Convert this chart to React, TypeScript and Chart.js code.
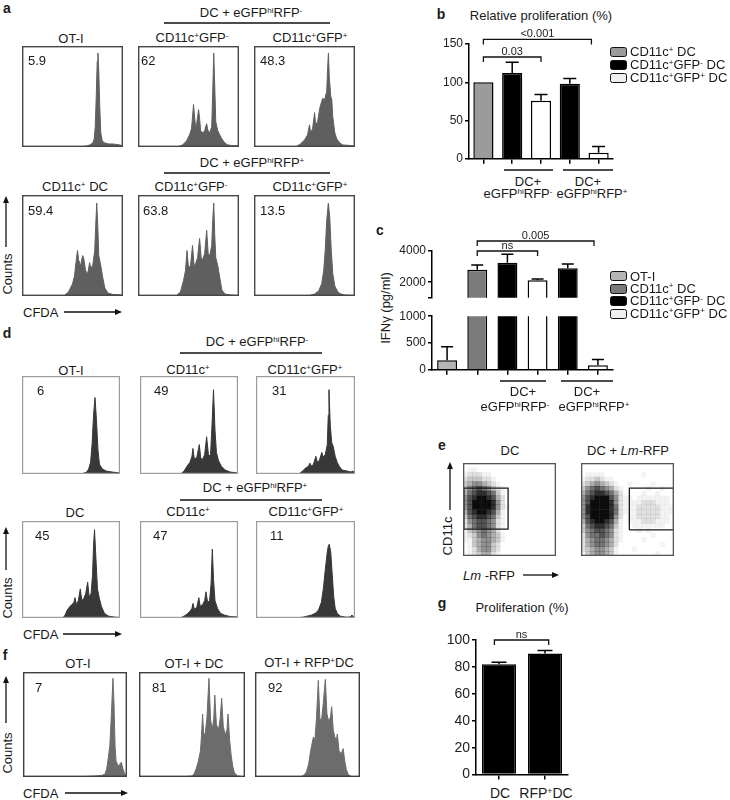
import React, { useEffect, useRef } from 'react';
import { Chart, registerables } from 'chart.js';

Chart.register(...registerables);

const FONT = '"Liberation Sans", Arial, Helvetica, sans-serif';

// ---------- panel a : CFDA histograms (x = % of CFDA axis, y = % of max counts)
const histA1 = [[0,0],[60,0.5],[64,1],[67,2],[70,4],[71.5,8],[72.5,20],[73.5,50],[74.5,85],[75.2,93],[76,75],[77,40],[78,14],[79.5,6],[82,4],[86,3],[90,3],[94,2.5],[97,2],[100,1]];
const histA2 = [[0,0],[40,0.5],[44,2],[48,6],[51,12],[53,18],[54,30],[55,42],[56,30],[57,20],[58,22],[59,30],[60,37],[61,28],[62,16],[64,14],[66,16],[67,20],[68,23],[69,17],[71,14],[73,20],[74,55],[75,93],[76,60],[77,25],[79,16],[81,12],[83,8],[86,4],[89,2],[93,1.5],[100,1]];
const histA3 = [[0,0],[42,0.5],[46,3],[50,7],[53,12],[55,22],[56,14],[58,18],[60,34],[61,22],[63,25],[65,38],[67,45],[68,48],[70,47],[72,55],[73,80],[73.7,93],[74.5,70],[76,50],[77,47],[78,30],[80,14],[82,8],[85,4],[88,2],[95,1.5],[100,1]];
const histA4 = [[0,0],[42,0.5],[46,4],[50,12],[52,20],[54,38],[55,45],[56,36],[58,30],[60,40],[61,38],[63,25],[65,22],[67,33],[68,28],[70,30],[72,45],[73,70],[74,92],[75,70],[76,40],[78,30],[80,18],[82,8],[85,3],[90,1.5],[100,1]];
const histA5 = [[0,0],[38,0.5],[42,4],[45,15],[47,25],[48.5,45],[50,28],[52,30],[54,50],[55.5,30],[57,32],[59,38],[61,57],[62.5,38],[64,36],[66,42],[68,65],[69.5,42],[71,40],[73,50],[74,75],[75,92],[76,60],[77,38],[79,30],[81,18],[83,6],[86,2],[92,1],[100,0.5]];
const histA6 = [[0,0],[55,0.5],[60,2],[64,5],[67,12],[69,25],[70.5,45],[72,75],[73.6,92],[75,78],[76.5,45],[78,22],[80,10],[83,4],[86,2],[90,1],[100,0.5]];

// ---------- panel d
const histD1 = [[0,0],[62,0.5],[66,2],[68,5],[70,12],[71.5,30],[73,60],[74.5,78],[76,55],[77.5,25],[79,10],[82,5],[86,3],[92,2],[100,1]];
const histD2 = [[0,0],[42,0.5],[45,3],[48,8],[51,12],[53,18],[54,26],[55.5,15],[58,17],[60.5,30],[62,16],[64,15],[66,20],[68,38],[70,18],[72,20],[73.5,50],[75,86],[76.5,45],[78,22],[80,14],[83,8],[87,4],[92,2],[100,1]];
const histD3 = [[0,0],[44,0.5],[47,3],[50,6],[53,8],[54.5,11],[56,8],[58,10],[60.5,18],[62,12],[64,14],[66.5,22],[68,17],[70,20],[72,30],[73,60],[73.7,86],[75,50],[76.5,32],[78,28],[80,18],[82,12],[84,8],[87,4],[92,3],[96,2],[98,3],[100,1]];
const histD4 = [[0,0],[42,0.5],[44,3],[46,8],[49,12],[51,14],[53,16],[54,21],[55.5,14],[57.5,18],[59.5,30],[61,18],[63,20],[65,25],[67,37],[68.5,22],[70.5,25],[72,45],[73,75],[74,91],[75.5,60],[77,30],[79,20],[81,12],[84,5],[88,2],[94,1],[100,0.5]];
const histD5 = [[0,0],[42,0.5],[45,2],[48,4],[51,7],[53,10],[54,15],[55.5,9],[58,11],[60,21],[61.5,12],[64,14],[66,18],[67.3,27],[69,16],[71,18],[72.5,35],[73.8,71],[75,40],[76.5,18],[79,10],[82,5],[86,3],[92,1.5],[100,1]];
const histD6 = [[0,0],[44,0.5],[48,1],[52,2],[56,3],[60,5],[63,8],[66,16],[68,30],[70,50],[72,68],[73,74],[74,76],[75.5,68],[77,45],[78.5,22],[80,10],[82,5],[85,2],[90,1],[95,1],[97,3],[98.5,1],[100,0.5]];

// ---------- panel f
const histF1 = [[0,0],[60,0.5],[70,1],[76,1.5],[79,3],[80.5,8],[82,18],[83.5,30],[85,60],[86.5,94],[87.5,70],[88.5,30],[89.5,15],[91,12],[92.5,10],[93.5,13],[94.5,14],[96,8],[97.5,4],[99,1],[100,0]];
const histF2 = [[0,0],[45,0.5],[50,1],[52,3],[54,8],[56,15],[58,25],[59,40],[60,60],[61,40],[62.5,42],[64,55],[66,94],[67.5,55],[69,45],[70.5,55],[71.5,78],[73,50],[75,45],[76.5,55],[78,75],[79.5,48],[81.5,40],[83,45],[84,60],[85.5,35],[87,20],[88.5,10],[90,4],[93,1],[100,0]];
const histF3 = [[0,0],[44,0.5],[47,2],[49,5],[51,12],[53,25],[55.6,38],[57,35],[58.5,55],[60.3,92],[61.8,55],[63.5,55],[65,70],[67,93],[68.5,60],[70.5,52],[72,58],[73,67],[74.5,45],[76,38],[77.5,35],[78.4,41],[80,25],[82,22],[84,27],[85.5,15],[87,7],[89,2],[92,0.5],[100,0]];

// ---------- panel b : relative proliferation (%)
const bLabels = ['', '', '', '', ''];
const bValues = [100, 112, 76, 98, 8];
const bErrors = [0, 14, 8, 7, 8];
const bColors = ['#9b9b9b', '#000000', '#ffffff', '#000000', '#ffffff'];
const bTicks = [0, 50, 100, 150];
const bSig = [
  { from: 0, to: 2, y: 133, label: '0.03' },
  { from: 0, to: 3.75, y: 156, label: '<0.001' },
];

// ---------- panel c : IFNγ (pg/ml), broken axis
const cLabels = ['', '', '', '', '', ''];
const cValues = [180, 2800, 3250, 2120, 2890, 84];
const cErrors = [250, 300, 540, 90, 270, 106];
const cColors = ['#b5b5b5', '#7a7a7a', '#000000', '#ffffff', '#000000', '#ffffff'];
const cLowerTicks = [0, 500, 1000];
const cUpperTicks = [1000, 2000, 4000];
const cUpperLabels = ['', '2000', '4000'];
const cSig = [
  { from: 1, to: 3, y: 4000, label: 'ns' },
  { from: 1, to: 4.87, y: 4640, label: '0.005' },
];

// ---------- panel e : CD11c vs Lm-RFP density (20 x 20 cells, row 0 = top, level 0-9)
const eGridDC = [
  '00000000000000000000',
  '01100000000000000000',
  '12221100000000000000',
  '23332210000000000000',
  '34554321000000000000',
  '35676532100000000000',
  '46788763100000000000',
  '57899874200000000000',
  '57999985200000000000',
  '57999985210000000000',
  '47899874100000000000',
  '36788763100000000000',
  '25677652100000000000',
  '24677652100000000000',
  '13456542000000000000',
  '12356543100000000000',
  '11345543100000000000',
  '01345532000000000000',
  '01245532000000000000',
  '01234421000000000000',
];
const eGridLm = [
  '00000000000000000000',
  '00000000000000000000',
  '01111000000001000000',
  '12232110000000000000',
  '23454321001000010000',
  '35676542100000100100',
  '46788764200001001000',
  '57899975211011111110',
  '57999985211112221110',
  '58999986211122222111',
  '58999986211122222111',
  '57999985201122222110',
  '47899874101112221110',
  '36788763100111111100',
  '35677652100010100000',
  '25667652100000010000',
  '24566542100001000000',
  '24566542000000000100',
  '23455431000100000000',
  '13455431000000001000',
];
const eGateDC = [1, 48.5, 29, 73];
const eGateLm = [52, 99.5, 28, 73];

// ---------- panel g : proliferation (%)
const gLabels = ['', ''];
const gValues = [82, 90];
const gErrors = [1.5, 2.2];
const gTicks = [0, 20, 40, 60, 80, 100];
const gSig = [{ from: -0.1, to: 1.08, y: 100, label: 'ns' }];

// ================= helpers
const baseOpts = () => ({
  animation: false,
  responsive: false,
  events: [],
  plugins: { legend: { display: false }, tooltip: { enabled: false } },
});

const framePlugin = (color: string, lw: number) => ({
  id: 'frame',
  afterDraw(chart: any) {
    const { ctx, chartArea: a } = chart;
    ctx.save();
    ctx.strokeStyle = color;
    ctx.lineWidth = lw;
    ctx.strokeRect(a.left + lw / 2, a.top + lw / 2, a.right - a.left - lw, a.bottom - a.top - lw);
    ctx.restore();
  },
});

const errorPlugin = (errors: number[], cap: number) => ({
  id: 'err',
  afterDatasetsDraw(chart: any) {
    const { ctx } = chart;
    const ys = chart.scales.y;
    const meta = chart.getDatasetMeta(0);
    const vals = chart.data.datasets[0].data;
    ctx.save();
    ctx.strokeStyle = '#000';
    ctx.lineWidth = 1.5;
    meta.data.forEach((bar: any, i: number) => {
      const v = vals[i];
      const e = errors[i];
      if (!e || v < ys.min || v > ys.max) return;
      const p0 = ys.getPixelForValue(v);
      const p1 = ys.getPixelForValue(v + e);
      ctx.beginPath();
      ctx.moveTo(bar.x, p0);
      ctx.lineTo(bar.x, p1);
      ctx.moveTo(bar.x - cap, p1);
      ctx.lineTo(bar.x + cap, p1);
      ctx.stroke();
    });
    ctx.restore();
  },
});

const sigPlugin = (sig: any[]) => ({
  id: 'sig',
  afterDraw(chart: any) {
    const { ctx } = chart;
    const xs = chart.scales.x;
    const ys = chart.scales.y;
    ctx.save();
    ctx.strokeStyle = '#111';
    ctx.lineWidth = 1.3;
    ctx.fillStyle = '#222';
    ctx.font = `11px ${FONT}`;
    ctx.textAlign = 'center';
    ctx.textBaseline = 'alphabetic';
    sig.forEach((s) => {
      const x1 = xs.getPixelForValue(s.from);
      const x2 = xs.getPixelForValue(s.to);
      const py = ys.getPixelForValue(s.y);
      ctx.beginPath();
      ctx.moveTo(x1, py + 5);
      ctx.lineTo(x1, py);
      ctx.lineTo(x2, py);
      ctx.lineTo(x2, py + 5);
      ctx.stroke();
      ctx.fillText(s.label, (x1 + x2) / 2, py - 2.5);
    });
    ctx.restore();
  },
});

function ChartCanvas({ x, y, w, h, make }: any) {
  const ref = useRef<HTMLCanvasElement>(null);
  useEffect(() => {
    const c = new Chart(ref.current as HTMLCanvasElement, make());
    return () => c.destroy();
  }, []);
  return (
    <canvas
      ref={ref}
      width={w}
      height={h}
      style={{ position: 'absolute', left: x, top: y, width: w, height: h }}
    />
  );
}

function Hist({ x, y, w, h, data, color, frame, frameW }: any) {
  return (
    <ChartCanvas
      x={x}
      y={y}
      w={w}
      h={h}
      make={() => ({
        type: 'line',
        data: {
          datasets: [
            {
              data: data.map((p: number[]) => ({ x: p[0], y: p[1] })),
              fill: 'origin',
              backgroundColor: color,
              borderColor: color,
              borderWidth: 1,
              pointRadius: 0,
              tension: 0,
              clip: 0,
            },
          ],
        },
        options: {
          ...baseOpts(),
          layout: { padding: 0 },
          scales: {
            x: { type: 'linear', min: 0, max: 100, display: false },
            y: { min: 0, max: 100, display: false },
          },
        },
        plugins: [framePlugin(frame, frameW)],
      })}
    />
  );
}

function Dots({ x, y, w, h, grid, gate }: any) {
  return (
    <ChartCanvas
      x={x}
      y={y}
      w={w}
      h={h}
      make={() => {
        const pts: any[] = [];
        const cols: string[] = [];
        grid.forEach((row: string, r: number) =>
          row.split('').forEach((ch, c) => {
            const lv = Number(ch);
            if (lv > 0) {
              pts.push({ x: (c + 0.5) * 5, y: 100 - (r + 0.5) * 5 });
              cols.push(`rgba(12,12,12,${Math.pow(lv / 9, 1.35).toFixed(3)})`);
            }
          })
        );
        const [x1, x2, y1, y2] = gate;
        return {
          type: 'scatter',
          data: {
            datasets: [
              {
                data: pts,
                pointBackgroundColor: cols,
                backgroundColor: cols,
                pointStyle: 'rect',
                pointRadius: 3.6,
                pointBorderWidth: 0,
                borderWidth: 0,
                clip: 0,
              },
              {
                data: [
                  { x: x1, y: y1 },
                  { x: x2, y: y1 },
                  { x: x2, y: y2 },
                  { x: x1, y: y2 },
                  { x: x1, y: y1 },
                ],
                showLine: true,
                borderColor: '#1a1a1a',
                borderWidth: 1.3,
                pointRadius: 0,
                fill: false,
                tension: 0,
              },
            ],
          },
          options: {
            ...baseOpts(),
            layout: { padding: 0 },
            scales: {
              x: { type: 'linear', min: 0, max: 100, display: false },
              y: { min: 0, max: 100, display: false },
            },
          },
          plugins: [framePlugin('#555', 1.3)],
        };
      }}
    />
  );
}

// Bar chart placed so that its chart area is exactly (ax0, ay0)-(ax1, ay1)
function Bars(p: any) {
  const yW = 40;
  const padTop = p.padTop;
  const padRight = 5;
  const xH = p.showX ? 8 : 0;
  const w = yW + (p.ax1 - p.ax0) + padRight;
  const h = padTop + (p.ay1 - p.ay0) + xH;
  return (
    <ChartCanvas
      x={p.ax0 - yW}
      y={p.ay0 - padTop}
      w={w}
      h={h}
      make={() => ({
        type: 'bar',
        data: {
          labels: p.labels,
          datasets: [
            {
              data: p.values,
              backgroundColor: p.colors,
              borderColor: '#000',
              borderWidth: 1.5,
              barPercentage: p.barPct,
              categoryPercentage: 1,
              clip: 0,
            },
          ],
        },
        options: {
          ...baseOpts(),
          layout: { padding: { top: padTop, right: padRight, left: 0, bottom: 0 } },
          scales: {
            x: {
              display: p.showX,
              offset: true,
              grid: { offset: false, drawOnChartArea: false, drawTicks: true, tickLength: 5, color: '#000', lineWidth: 1.5 },
              border: { color: '#000', width: 1.5 },
              ticks: { display: false },
              afterFit: (s: any) => {
                s.height = xH;
              },
            },
            y: {
              min: p.min,
              max: p.max,
              grid: { drawOnChartArea: false, drawTicks: true, tickLength: 4, color: '#000', lineWidth: 1.5 },
              border: { color: '#000', width: 1.5 },
              ticks: {
                font: { family: FONT, size: p.font },
                color: '#222',
                padding: 2,
                callback: (v: number) => {
                  const i = p.ticks.indexOf(v);
                  return p.tickLabels ? p.tickLabels[i] : String(v);
                },
              },
              afterBuildTicks: (s: any) => {
                s.ticks = p.ticks.map((v: number) => ({ value: v }));
              },
              afterFit: (s: any) => {
                s.width = yW;
              },
            },
          },
        },
        plugins: [errorPlugin(p.errors, p.cap), sigPlugin(p.sig)],
      })}
    />
  );
}

function Txt({ x, y, size = 13, bold, italic, rot, align = 'center', color = '#1a1a1a', children }: any) {
  const tx = align === 'center' ? '-50%' : align === 'right' ? '-100%' : '0';
  return (
    <div
      style={{
        position: 'absolute',
        left: x,
        top: y,
        transform: `translate(${tx}, -50%)${rot ? ' rotate(-90deg)' : ''}`,
        fontFamily: FONT,
        fontSize: size,
        fontWeight: bold ? 700 : 400,
        fontStyle: italic ? 'italic' : 'normal',
        whiteSpace: 'nowrap',
        lineHeight: 1,
        color,
      }}
    >
      {children}
    </div>
  );
}

const Sup = ({ children }: any) => (
  <span style={{ fontSize: '0.62em', position: 'relative', top: '-0.5em' }}>{children}</span>
);

function LegendRow({ x, y, fill, children }: any) {
  return (
    <>
      <div
        style={{
          position: 'absolute',
          left: x,
          top: y - 5,
          width: 17,
          height: 10,
          background: fill,
          border: '1px solid #111',
          borderRadius: 2.5,
          boxSizing: 'border-box',
        }}
      />
      <Txt x={x + 20} y={y} align="left" size={13}>
        {children}
      </Txt>
    </>
  );
}

const ArrowUp = ({ x, y1, y2 }: any) => (
  <g>
    <line x1={x} y1={y1} x2={x} y2={y2 + 5} stroke="#111" strokeWidth={1.3} />
    <polygon points={`${x},${y2} ${x - 3},${y2 + 7} ${x + 3},${y2 + 7}`} fill="#111" />
  </g>
);
const ArrowRight = ({ y, x1, x2 }: any) => (
  <g>
    <line x1={x1} y1={y} x2={x2 - 5} y2={y} stroke="#111" strokeWidth={1.3} />
    <polygon points={`${x2},${y} ${x2 - 7},${y - 3} ${x2 - 7},${y + 3}`} fill="#111" />
  </g>
);

const DCeGFP = ({ sign }: any) => (
  <>
    DC + eGFP<Sup>hi</Sup>RFP<Sup>{sign}</Sup>
  </>
);
const C11 = ({ gfp }: any) => (
  <>
    CD11c<Sup>+</Sup>
    {gfp ? (
      <>
        GFP<Sup>{gfp}</Sup>
      </>
    ) : null}
  </>
);

const A_COL = '#5f5f5f';
const D_COL = '#383838';
const F_COL = '#6c6c6c';

export default function App() {
  return (
    <div
      style={{
        position: 'absolute',
        left: 0,
        top: 0,
        width: 730,
        height: 800,
        background: '#fff',
        overflow: 'hidden',
        fontFamily: FONT,
      }}
    >
      <svg width={730} height={800} style={{ position: 'absolute', left: 0, top: 0 }}>
        {/* group lines */}
        <line x1={164} y1={23} x2={330} y2={23} stroke="#111" strokeWidth={1.5} />
        <line x1={164} y1={173} x2={330} y2={173} stroke="#111" strokeWidth={1.5} />
        <line x1={180} y1={353} x2={322} y2={353} stroke="#111" strokeWidth={1.5} />
        <line x1={180} y1={500} x2={322} y2={500} stroke="#111" strokeWidth={1.5} />
        <line x1={504} y1={170} x2={553} y2={170} stroke="#111" strokeWidth={1.3} />
        <line x1={563} y1={170} x2={613} y2={170} stroke="#111" strokeWidth={1.3} />
        <line x1={500} y1={381} x2={546} y2={381} stroke="#111" strokeWidth={1.3} />
        <line x1={561} y1={381} x2={613} y2={381} stroke="#111" strokeWidth={1.3} />
        {/* axis arrows */}
        <ArrowUp x={6} y1={247} y2={196} />
        <ArrowRight y={312} x1={64} x2={122} />
        <ArrowUp x={6} y1={570} y2={527} />
        <ArrowRight y={634} x1={63} x2={122} />
        <ArrowUp x={6} y1={723} y2={676} />
        <ArrowRight y={793} x1={65} x2={128} />
        <ArrowUp x={450} y1={510} y2={462} />
        <ArrowRight y={575} x1={523} x2={559} />
      </svg>

      {/* ---------- panel a ---------- */}
      <Txt x={7} y={8} size={14} bold>a</Txt>
      <Txt x={251} y={13}><DCeGFP sign="-" /></Txt>
      <Txt x={71} y={38}>OT-I</Txt>
      <Txt x={192} y={38}><C11 gfp="-" /></Txt>
      <Txt x={310} y={38}><C11 gfp="+" /></Txt>
      <Hist x={22} y={46} w={101} h={101} data={histA1} color={A_COL} frame="#474747" frameW={1.4} />
      <Hist x={138} y={46} w={101} h={101} data={histA2} color={A_COL} frame="#474747" frameW={1.4} />
      <Hist x={254} y={46} w={101} h={101} data={histA3} color={A_COL} frame="#474747" frameW={1.4} />
      <Txt x={28} y={60} align="left">5.9</Txt>
      <Txt x={141} y={60} align="left">62</Txt>
      <Txt x={260} y={60} align="left">48.3</Txt>

      <Txt x={252} y={163}><DCeGFP sign="+" /></Txt>
      <Txt x={75} y={187}>CD11c<Sup>+</Sup> DC</Txt>
      <Txt x={191} y={187}><C11 gfp="-" /></Txt>
      <Txt x={310} y={187}><C11 gfp="+" /></Txt>
      <Hist x={22} y={195} w={101} h={101} data={histA4} color={A_COL} frame="#474747" frameW={1.4} />
      <Hist x={138} y={195} w={101} h={101} data={histA5} color={A_COL} frame="#474747" frameW={1.4} />
      <Hist x={254} y={195} w={101} h={101} data={histA6} color={A_COL} frame="#474747" frameW={1.4} />
      <Txt x={28} y={210} align="left">59.4</Txt>
      <Txt x={143} y={210} align="left">63.8</Txt>
      <Txt x={260} y={210} align="left">13.5</Txt>
      <Txt x={7} y={274} rot>Counts</Txt>
      <Txt x={23} y={312} align="left">CFDA</Txt>

      {/* ---------- panel d ---------- */}
      <Txt x={7} y={333} size={14} bold>d</Txt>
      <Txt x={257} y={342}><DCeGFP sign="-" /></Txt>
      <Txt x={71} y={370}>OT-I</Txt>
      <Txt x={188} y={370}>CD11c<Sup>+</Sup></Txt>
      <Txt x={305} y={370}><C11 gfp="+" /></Txt>
      <Hist x={22} y={376} w={98} h={98} data={histD1} color={D_COL} frame="#9c9c9c" frameW={1.2} />
      <Hist x={140} y={376} w={98} h={98} data={histD2} color={D_COL} frame="#9c9c9c" frameW={1.2} />
      <Hist x={256} y={376} w={99} h={98} data={histD3} color={D_COL} frame="#9c9c9c" frameW={1.2} />
      <Txt x={37} y={390} align="left">6</Txt>
      <Txt x={154} y={390} align="left">49</Txt>
      <Txt x={272} y={390} align="left">31</Txt>

      <Txt x={255} y={488}><DCeGFP sign="+" /></Txt>
      <Txt x={75} y={512}>DC</Txt>
      <Txt x={188} y={512}>CD11c<Sup>+</Sup></Txt>
      <Txt x={306} y={512}><C11 gfp="+" /></Txt>
      <Hist x={22} y={521} w={98} h={97} data={histD4} color={D_COL} frame="#9c9c9c" frameW={1.2} />
      <Hist x={140} y={521} w={98} h={97} data={histD5} color={D_COL} frame="#9c9c9c" frameW={1.2} />
      <Hist x={256} y={521} w={99} h={97} data={histD6} color={D_COL} frame="#9c9c9c" frameW={1.2} />
      <Txt x={35} y={535} align="left">45</Txt>
      <Txt x={153} y={535} align="left">47</Txt>
      <Txt x={270} y={535} align="left">11</Txt>
      <Txt x={7} y={598} rot>Counts</Txt>
      <Txt x={23} y={634} align="left">CFDA</Txt>

      {/* ---------- panel f ---------- */}
      <Txt x={5} y={655} size={14} bold>f</Txt>
      <Txt x={78} y={663}>OT-I</Txt>
      <Txt x={194} y={663}>OT-I + DC</Txt>
      <Txt x={309} y={663}>OT-I + RFP<Sup>+</Sup>DC</Txt>
      <Hist x={23} y={672} w={104} h={105} data={histF1} color={F_COL} frame="#3f3f3f" frameW={1.4} />
      <Hist x={139} y={672} w={106} h={105} data={histF2} color={F_COL} frame="#3f3f3f" frameW={1.4} />
      <Hist x={255} y={672} w={105} h={105} data={histF3} color={F_COL} frame="#3f3f3f" frameW={1.4} />
      <Txt x={35} y={687} align="left">7</Txt>
      <Txt x={152} y={687} align="left">81</Txt>
      <Txt x={268} y={687} align="left">92</Txt>
      <Txt x={7} y={753} rot>Counts</Txt>
      <Txt x={23} y={793} align="left">CFDA</Txt>

      {/* ---------- panel b ---------- */}
      <Txt x={441} y={14} size={14} bold>b</Txt>
      <Txt x={541} y={15}>Relative proliferation (%)</Txt>
      <Bars
        ax0={469} ay0={44} ax1={613} ay1={160} padTop={24} showX
        labels={bLabels} values={bValues} colors={bColors} errors={bErrors}
        min={0} max={150} ticks={bTicks} font={12} barPct={0.7} cap={6.5} sig={bSig}
      />
      <Txt x={528} y={181}>DC+</Txt>
      <Txt x={588} y={181}>DC+</Txt>
      <Txt x={518} y={194}>eGFP<Sup>hi</Sup>RFP<Sup>-</Sup></Txt>
      <Txt x={592} y={194}>eGFP<Sup>hi</Sup>RFP<Sup>+</Sup></Txt>
      <LegendRow x={610} y={52} fill="#9b9b9b"><C11 /> DC</LegendRow>
      <LegendRow x={610} y={65} fill="#000"><C11 gfp="-" /> DC</LegendRow>
      <LegendRow x={610} y={78} fill="#efefef"><C11 gfp="+" /> DC</LegendRow>

      {/* ---------- panel c ---------- */}
      <Txt x={380} y={230} size={14} bold>c</Txt>
      <Txt x={385} y={308} rot>IFNγ (pg/ml)</Txt>
      <Bars
        ax0={432} ay0={251} ax1={613} ay1={307} padTop={28} showX={false}
        labels={cLabels} values={cValues} colors={cColors} errors={cErrors}
        min={1000} max={4000} ticks={cUpperTicks} tickLabels={cUpperLabels} font={12} barPct={0.66} cap={6} sig={cSig}
      />
      <Bars
        ax0={432} ay0={315} ax1={613} ay1={371} padTop={8} showX
        labels={cLabels} values={cValues} colors={cColors} errors={cErrors}
        min={0} max={1000} ticks={cLowerTicks} font={12} barPct={0.66} cap={6} sig={[]}
      />
      <Txt x={523} y={391}>DC+</Txt>
      <Txt x={587} y={391}>DC+</Txt>
      <Txt x={515} y={407}>eGFP<Sup>hi</Sup>RFP<Sup>-</Sup></Txt>
      <Txt x={594} y={407}>eGFP<Sup>hi</Sup>RFP<Sup>+</Sup></Txt>
      <LegendRow x={610} y={276} fill="#b5b5b5">OT-I</LegendRow>
      <LegendRow x={610} y={288.5} fill="#7a7a7a"><C11 /> DC</LegendRow>
      <LegendRow x={610} y={301} fill="#000"><C11 gfp="-" /> DC</LegendRow>
      <LegendRow x={610} y={313.5} fill="#efefef"><C11 gfp="+" /> DC</LegendRow>

      {/* ---------- panel e ---------- */}
      <Txt x={442} y={445} size={14} bold>e</Txt>
      <Txt x={510} y={450}>DC</Txt>
      <Txt x={628} y={450}>DC + <i>Lm</i>-RFP</Txt>
      <Dots x={459} y={459} w={101} h={101} grid={eGridDC} gate={eGateDC} />
      <Dots x={577} y={459} w={101} h={101} grid={eGridLm} gate={eGateLm} />
      <Txt x={447} y={536} rot>CD11c</Txt>
      <Txt x={463} y={575} align="left"><i>Lm</i> -RFP</Txt>

      {/* ---------- panel g ---------- */}
      <Txt x={442} y={603} size={14} bold>g</Txt>
      <Txt x={522} y={607}>Proliferation (%)</Txt>
      <Bars
        ax0={476} ay0={640} ax1={568} ay1={777} padTop={22} showX
        labels={gLabels} values={gValues} colors={['#000', '#000']} errors={gErrors}
        min={0} max={100} ticks={gTicks} font={14} barPct={0.74} cap={7.5} sig={gSig}
      />
      <Txt x={500} y={793} size={14}>DC</Txt>
      <Txt x={546} y={793} size={14}>RFP<Sup>+</Sup>DC</Txt>
    </div>
  );
}
